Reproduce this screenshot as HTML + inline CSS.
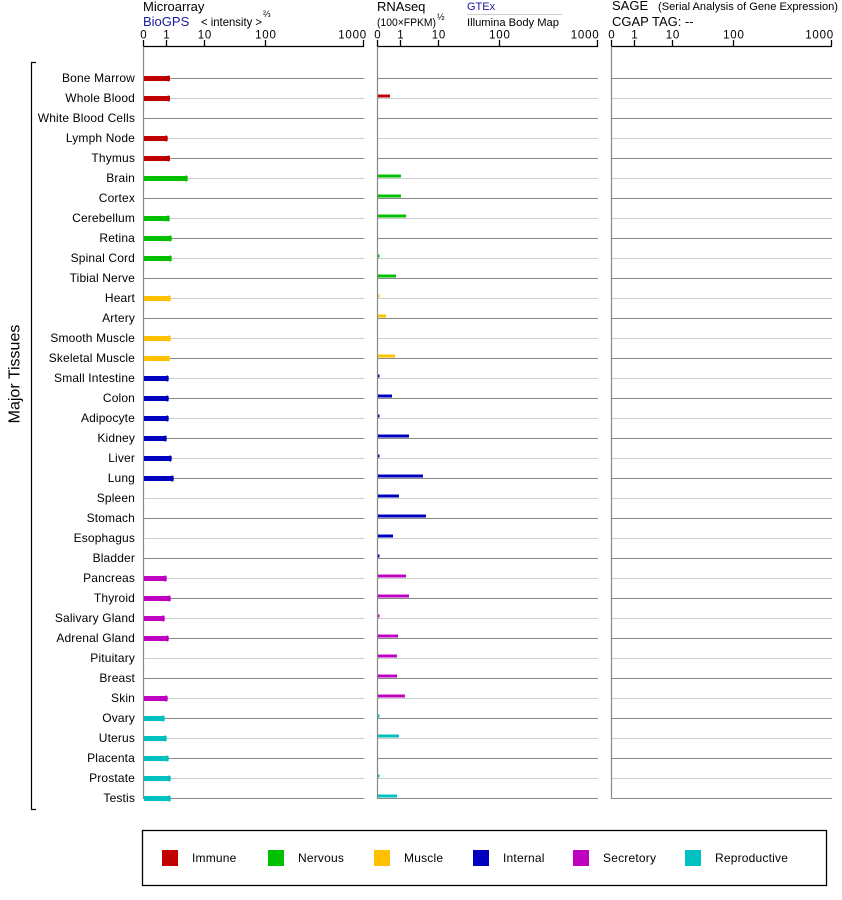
<!DOCTYPE html>
<html><head><meta charset="utf-8"><style>
html,body{margin:0;padding:0;background:#fff;}
svg{display:block;font-family:"Liberation Sans",Arial,sans-serif;}
</style></head><body>
<svg width="842" height="900" viewBox="0 0 842 900" xmlns="http://www.w3.org/2000/svg">
<rect width="842" height="900" fill="#fff"/>
<!-- Headers -->
<text x="143" y="11" font-size="13" fill="#000">Microarray</text>
<text x="143" y="26" font-size="13" fill="#1a1a9c">BioGPS</text>
<text x="201" y="26" font-size="12" fill="#000" textLength="61" lengthAdjust="spacingAndGlyphs">&lt; intensity &gt;</text>
<text x="263" y="17" font-size="9" fill="#000">⅔</text>

<text x="377" y="11" font-size="13" fill="#000">RNAseq</text>
<text x="377" y="26" font-size="11" fill="#000" textLength="59" lengthAdjust="spacingAndGlyphs">(100×FPKM)</text>
<text x="437" y="20" font-size="9" fill="#000">½</text>
<text x="467" y="10" font-size="11" fill="#1a1a9c">GTEx</text>
<line x1="467" y1="14.5" x2="562" y2="14.5" stroke="#ccc" stroke-width="1"/>
<text x="467" y="26" font-size="11" fill="#000" textLength="92" lengthAdjust="spacingAndGlyphs">Illumina Body Map</text>

<text x="612" y="10" font-size="13" fill="#000">SAGE</text>
<text x="658" y="10" font-size="11" fill="#000" textLength="180" lengthAdjust="spacingAndGlyphs">(Serial Analysis of Gene Expression)</text>
<text x="612" y="26" font-size="13" fill="#000">CGAP TAG:  --</text>

<!-- Bracket and Major Tissues -->
<path d="M36 62.5 H31.5 V809.5 H36" fill="none" stroke="#000" stroke-width="1.2"/>
<text x="0" y="0" font-size="16" fill="#000" text-anchor="middle" transform="translate(19.5,374) rotate(-90)">Major Tissues</text>

<!-- Legend -->
<rect x="142.5" y="830.5" width="684" height="55" fill="none" stroke="#000" stroke-width="1.3"/>
<g font-size="12" fill="#000" letter-spacing="0.2">
<rect x="162" y="850" width="16" height="16" fill="#c00000"/><text x="192" y="862">Immune</text>
<rect x="268" y="850" width="16" height="16" fill="#00c000"/><text x="298" y="862">Nervous</text>
<rect x="374" y="850" width="16" height="16" fill="#ffc000"/><text x="404" y="862">Muscle</text>
<rect x="473" y="850" width="16" height="16" fill="#0000c0"/><text x="503" y="862">Internal</text>
<rect x="573" y="850" width="16" height="16" fill="#c000c0"/><text x="603" y="862">Secretory</text>
<rect x="685" y="850" width="16" height="16" fill="#00c0c0"/><text x="715" y="862">Reproductive</text>
</g>
<g id="content">
<!-- Panel axes -->
<g stroke="#000" stroke-width="1.3" fill="none">
<path d="M143.5 46.5 H364"/>
<path d="M143.5 40 V46.5 M166.5 40 V46.5 M204.5 40 V46.5 M265.5 40 V46.5 M363.5 40 V46.5"/>
<path d="M377.5 46.5 H598"/>
<path d="M377.5 40 V46.5 M400.5 40 V46.5 M438.5 40 V46.5 M499.5 40 V46.5 M597.5 40 V46.5"/>
<path d="M611.5 46.5 H832"/>
<path d="M611.5 40 V46.5 M634.5 40 V46.5 M672.5 40 V46.5 M733.5 40 V46.5 M831.5 40 V46.5"/>
</g>
<g font-size="11.5" fill="#000" text-anchor="middle" letter-spacing="0.8">
<text x="143.9" y="38.5">0</text><text x="166.9" y="38.5">1</text><text x="204.9" y="38.5">10</text><text x="265.9" y="38.5">100</text><text x="367" y="38.5" text-anchor="end">1000</text>
<text x="377.9" y="38.5">0</text><text x="400.9" y="38.5">1</text><text x="438.9" y="38.5">10</text><text x="499.9" y="38.5">100</text><text x="599.5" y="38.5" text-anchor="end">1000</text>
<text x="611.9" y="38.5">0</text><text x="634.9" y="38.5">1</text><text x="672.9" y="38.5">10</text><text x="733.9" y="38.5">100</text><text x="834" y="38.5" text-anchor="end">1000</text>
</g>
<!-- grid lines -->
<g stroke-width="1" fill="none">
<g stroke="#888">
<path d="M143 78.5H364M377 78.5H598M611 78.5H832"/>
<path d="M143 118.5H364M377 118.5H598M611 118.5H832"/>
<path d="M143 158.5H364M377 158.5H598M611 158.5H832"/>
<path d="M143 198.5H364M377 198.5H598M611 198.5H832"/>
<path d="M143 238.5H364M377 238.5H598M611 238.5H832"/>
<path d="M143 278.5H364M377 278.5H598M611 278.5H832"/>
<path d="M143 318.5H364M377 318.5H598M611 318.5H832"/>
<path d="M143 358.5H364M377 358.5H598M611 358.5H832"/>
<path d="M143 398.5H364M377 398.5H598M611 398.5H832"/>
<path d="M143 438.5H364M377 438.5H598M611 438.5H832"/>
<path d="M143 478.5H364M377 478.5H598M611 478.5H832"/>
<path d="M143 518.5H364M377 518.5H598M611 518.5H832"/>
<path d="M143 558.5H364M377 558.5H598M611 558.5H832"/>
<path d="M143 598.5H364M377 598.5H598M611 598.5H832"/>
<path d="M143 638.5H364M377 638.5H598M611 638.5H832"/>
<path d="M143 678.5H364M377 678.5H598M611 678.5H832"/>
<path d="M143 718.5H364M377 718.5H598M611 718.5H832"/>
<path d="M143 758.5H364M377 758.5H598M611 758.5H832"/>
<path d="M143 798.5H364M377 798.5H598M611 798.5H832"/>
</g>
<g stroke="#ccc">
<path d="M143 98.5H364M377 98.5H598M611 98.5H832"/>
<path d="M143 138.5H364M377 138.5H598M611 138.5H832"/>
<path d="M143 178.5H364M377 178.5H598M611 178.5H832"/>
<path d="M143 218.5H364M377 218.5H598M611 218.5H832"/>
<path d="M143 258.5H364M377 258.5H598M611 258.5H832"/>
<path d="M143 298.5H364M377 298.5H598M611 298.5H832"/>
<path d="M143 338.5H364M377 338.5H598M611 338.5H832"/>
<path d="M143 378.5H364M377 378.5H598M611 378.5H832"/>
<path d="M143 418.5H364M377 418.5H598M611 418.5H832"/>
<path d="M143 458.5H364M377 458.5H598M611 458.5H832"/>
<path d="M143 498.5H364M377 498.5H598M611 498.5H832"/>
<path d="M143 538.5H364M377 538.5H598M611 538.5H832"/>
<path d="M143 578.5H364M377 578.5H598M611 578.5H832"/>
<path d="M143 618.5H364M377 618.5H598M611 618.5H832"/>
<path d="M143 658.5H364M377 658.5H598M611 658.5H832"/>
<path d="M143 698.5H364M377 698.5H598M611 698.5H832"/>
<path d="M143 738.5H364M377 738.5H598M611 738.5H832"/>
<path d="M143 778.5H364M377 778.5H598M611 778.5H832"/>
</g>
</g>
<!-- vertical axis lines -->
<path d="M143.5 46.5V799M377.5 46.5V799M611.5 46.5V799" stroke="#888" stroke-width="1.2" fill="none"/>

<!-- Row labels -->
<g font-size="12" fill="#000" text-anchor="end" letter-spacing="0.15">
<text x="135" y="82">Bone Marrow</text>
<text x="135" y="102">Whole Blood</text>
<text x="135" y="122">White Blood Cells</text>
<text x="135" y="142">Lymph Node</text>
<text x="135" y="162">Thymus</text>
<text x="135" y="182">Brain</text>
<text x="135" y="202">Cortex</text>
<text x="135" y="222">Cerebellum</text>
<text x="135" y="242">Retina</text>
<text x="135" y="262">Spinal Cord</text>
<text x="135" y="282">Tibial Nerve</text>
<text x="135" y="302">Heart</text>
<text x="135" y="322">Artery</text>
<text x="135" y="342">Smooth Muscle</text>
<text x="135" y="362">Skeletal Muscle</text>
<text x="135" y="382">Small Intestine</text>
<text x="135" y="402">Colon</text>
<text x="135" y="422">Adipocyte</text>
<text x="135" y="442">Kidney</text>
<text x="135" y="462">Liver</text>
<text x="135" y="482">Lung</text>
<text x="135" y="502">Spleen</text>
<text x="135" y="522">Stomach</text>
<text x="135" y="542">Esophagus</text>
<text x="135" y="562">Bladder</text>
<text x="135" y="582">Pancreas</text>
<text x="135" y="602">Thyroid</text>
<text x="135" y="622">Salivary Gland</text>
<text x="135" y="642">Adrenal Gland</text>
<text x="135" y="662">Pituitary</text>
<text x="135" y="682">Breast</text>
<text x="135" y="702">Skin</text>
<text x="135" y="722">Ovary</text>
<text x="135" y="742">Uterus</text>
<text x="135" y="762">Placenta</text>
<text x="135" y="782">Prostate</text>
<text x="135" y="802">Testis</text>
</g>

<!-- Microarray bars -->
<g>
<g fill="#c00000">
<rect x="144" y="76" width="24" height="5"/><rect x="167" y="75.5" width="3" height="6" rx="1.5"/>
<rect x="144" y="96" width="24" height="5"/><rect x="167" y="95.5" width="3" height="6" rx="1.5"/>
<rect x="144" y="136" width="21.7" height="5"/><rect x="164.7" y="135.5" width="3" height="6" rx="1.5"/>
<rect x="144" y="156" width="24" height="5"/><rect x="167" y="155.5" width="3" height="6" rx="1.5"/>
</g>
<g fill="#00c000">
<rect x="144" y="176" width="41.7" height="5"/><rect x="184.7" y="175.5" width="3" height="6" rx="1.5"/>
<rect x="144" y="216" width="23.7" height="5"/><rect x="166.7" y="215.5" width="3" height="6" rx="1.5"/>
<rect x="144" y="236" width="25.7" height="5"/><rect x="168.7" y="235.5" width="3" height="6" rx="1.5"/>
<rect x="144" y="256" width="25.7" height="5"/><rect x="168.7" y="255.5" width="3" height="6" rx="1.5"/>
</g>
<g fill="#ffc000">
<rect x="144" y="296" width="24.7" height="5"/><rect x="167.7" y="295.5" width="3" height="6" rx="1.5"/>
<rect x="144" y="336" width="24.7" height="5"/><rect x="167.7" y="335.5" width="3" height="6" rx="1.5"/>
<rect x="144" y="356" width="23.7" height="5"/><rect x="166.7" y="355.5" width="3" height="6" rx="1.5"/>
</g>
<g fill="#0000c0">
<rect x="144" y="376" width="22.7" height="5"/><rect x="165.7" y="375.5" width="3" height="6" rx="1.5"/>
<rect x="144" y="396" width="22.7" height="5"/><rect x="165.7" y="395.5" width="3" height="6" rx="1.5"/>
<rect x="144" y="416" width="22.7" height="5"/><rect x="165.7" y="415.5" width="3" height="6" rx="1.5"/>
<rect x="144" y="436" width="20.7" height="5"/><rect x="163.7" y="435.5" width="3" height="6" rx="1.5"/>
<rect x="144" y="456" width="25.7" height="5"/><rect x="168.7" y="455.5" width="3" height="6" rx="1.5"/>
<rect x="144" y="476" width="27.7" height="5"/><rect x="170.7" y="475.5" width="3" height="6" rx="1.5"/>
</g>
<g fill="#c000c0">
<rect x="144" y="576" width="20.7" height="5"/><rect x="163.7" y="575.5" width="3" height="6" rx="1.5"/>
<rect x="144" y="596" width="24.7" height="5"/><rect x="167.7" y="595.5" width="3" height="6" rx="1.5"/>
<rect x="144" y="616" width="18.7" height="5"/><rect x="161.7" y="615.5" width="3" height="6" rx="1.5"/>
<rect x="144" y="636" width="22.7" height="5"/><rect x="165.7" y="635.5" width="3" height="6" rx="1.5"/>
<rect x="144" y="696" width="21.7" height="5"/><rect x="164.7" y="695.5" width="3" height="6" rx="1.5"/>
</g>
<g fill="#00c0c0">
<rect x="144" y="716" width="18.7" height="5"/><rect x="161.7" y="715.5" width="3" height="6" rx="1.5"/>
<rect x="144" y="736" width="20.7" height="5"/><rect x="163.7" y="735.5" width="3" height="6" rx="1.5"/>
<rect x="144" y="756" width="22.7" height="5"/><rect x="165.7" y="755.5" width="3" height="6" rx="1.5"/>
<rect x="144" y="776" width="24.7" height="5"/><rect x="167.7" y="775.5" width="3" height="6" rx="1.5"/>
<rect x="144" y="796" width="24.7" height="5"/><rect x="167.7" y="795.5" width="3" height="6" rx="1.5"/>
</g>
</g>

<!-- RNAseq bars -->
<g>
<rect x="378" y="94.5" width="12" height="3" fill="#c00000"/>
<g fill="#00c000">
<rect x="378" y="174.5" width="23" height="3"/>
<rect x="378" y="194.5" width="23" height="3"/>
<rect x="378" y="214.5" width="28" height="3"/>
<rect x="378" y="254.5" width="1.5" height="3"/>
<rect x="378" y="274.5" width="18" height="3"/>
</g>
<g fill="#ffc000">
<rect x="378" y="294.5" width="1.5" height="3"/>
<rect x="378" y="314.5" width="8" height="3"/>
<rect x="378" y="354.5" width="17" height="3"/>
</g>
<g fill="#0000c0">
<rect x="378" y="374.5" width="1.5" height="3"/>
<rect x="378" y="394.5" width="14" height="3"/>
<rect x="378" y="414.5" width="1.5" height="3"/>
<rect x="378" y="434.5" width="31" height="3"/>
<rect x="378" y="454.5" width="1.5" height="3"/>
<rect x="378" y="474.5" width="45" height="3"/>
<rect x="378" y="494.5" width="21" height="3"/>
<rect x="378" y="514.5" width="48" height="3"/>
<rect x="378" y="534.5" width="15" height="3"/>
<rect x="378" y="554.5" width="1.5" height="3"/>
</g>
<g fill="#c000c0">
<rect x="378" y="574.5" width="28" height="3"/>
<rect x="378" y="594.5" width="31" height="3"/>
<rect x="378" y="614.5" width="1.5" height="3"/>
<rect x="378" y="634.5" width="20" height="3"/>
<rect x="378" y="654.5" width="19" height="3"/>
<rect x="378" y="674.5" width="19" height="3"/>
<rect x="378" y="694.5" width="27" height="3"/>
</g>
<g fill="#00c0c0">
<rect x="378" y="714.5" width="1.5" height="3"/>
<rect x="378" y="734.5" width="21" height="3"/>
<rect x="378" y="774.5" width="1.5" height="3"/>
<rect x="378" y="794.5" width="19" height="3"/>
</g>
</g>
</g>
</svg>
</body></html>
